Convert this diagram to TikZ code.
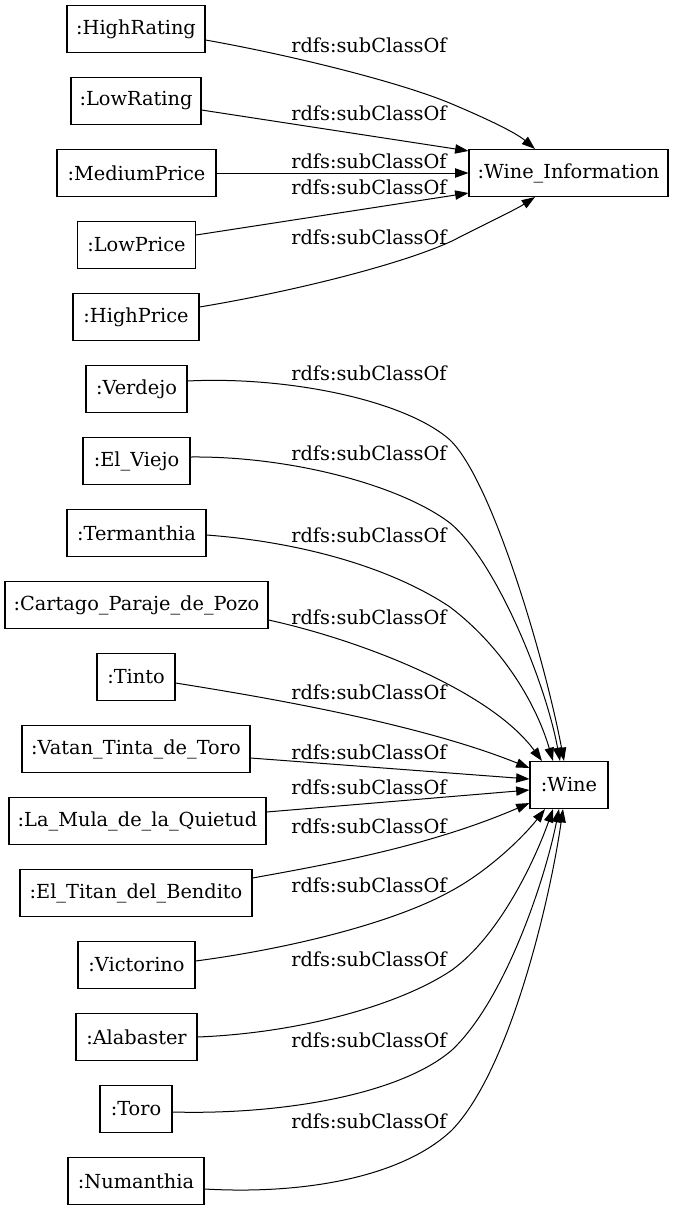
\documentclass[tikz,border=0pt]{standalone}
\usepackage{fontspec}
\setmainfont{DejaVu Serif}
\usetikzlibrary{arrows.meta}
\begin{document}
\begin{tikzpicture}[x=0.75pt,y=-0.75pt,
  box/.style={draw, line width=0.8pt, minimum height=35.25pt, minimum width=#1*0.75pt, inner sep=0pt, font=\fontsize{14.5}{17}\selectfont},
  lbl/.style={font=\fontsize{14.5}{17}\selectfont, inner sep=0pt},
  edge/.style={draw, line width=0.75pt, -{Triangle[length=10pt,width=7pt]}}]
\useasboundingbox (0,0) rectangle (675,1211);
% top group
\node[box=138] (hr) at (136,29) {:HighRating};
\node[box=130] (lr) at (136,101) {:LowRating};
\node[box=159] (mp) at (136.5,173) {:MediumPrice};
\node[box=118] (lp) at (136.5,245) {:LowPrice};
\node[box=126] (hp) at (136,317) {:HighPrice};
\node[box=199] (wi) at (568.5,173) {:Wine\_Information};
% bottom group
\node[box=101] (ve) at (136.5,389) {:Verdejo};
\node[box=107] (ev) at (136.5,461) {:El\_Viejo};
\node[box=139] (te) at (136.5,533) {:Termanthia};
\node[box=263] (ca) at (136.5,605) {:Cartago\_Paraje\_de\_Pozo};
\node[box=78] (ti) at (136,677) {:Tinto};
\node[box=228] (va) at (136,749) {:Vatan\_Tinta\_de\_Toro};
\node[box=257] (lm) at (137.5,821) {:La\_Mula\_de\_la\_Quietud};
\node[box=232] (et) at (136,893) {:El\_Titan\_del\_Bendito};
\node[box=117] (vi) at (136.5,965) {:Victorino};
\node[box=121] (al) at (136.5,1037) {:Alabaster};
\node[box=72] (to) at (136,1109) {:Toro};
\node[box=136] (nu) at (136,1181) {:Numanthia};
\node[box=78] (w) at (569,785) {:Wine};
% labels
\node[lbl] (l1) at (369,45) {rdfs:subClassOf};
\node[lbl] (l2) at (369,113) {rdfs:subClassOf};
\node[lbl] (l3) at (369,161) {rdfs:subClassOf};
\node[lbl] (l4) at (369,187) {rdfs:subClassOf};
\node[lbl] (l5) at (369,237) {rdfs:subClassOf};
\node[lbl] (l6) at (369,373) {rdfs:subClassOf};
\node[lbl] (l7) at (369,453) {rdfs:subClassOf};
\node[lbl] (l8) at (369,535) {rdfs:subClassOf};
\node[lbl] (l9) at (369,617) {rdfs:subClassOf};
\node[lbl] (l10) at (369,692) {rdfs:subClassOf};
\node[lbl] (l11) at (369,752) {rdfs:subClassOf};
\node[lbl] (l12) at (369,787) {rdfs:subClassOf};
\node[lbl] (l13) at (369,826) {rdfs:subClassOf};
\node[lbl] (l14) at (369,885) {rdfs:subClassOf};
\node[lbl] (l15) at (369,959) {rdfs:subClassOf};
\node[lbl] (l16) at (369,1040) {rdfs:subClassOf};
\node[lbl] (l17) at (369,1121) {rdfs:subClassOf};
% top edges
\draw[edge] ([shift={(0,11)}]hr.east) .. controls (290,55) and (400,82) .. (452,104) .. controls (485,118) and (515,132) .. ([shift={(-33.5,0)}]wi.north);
\draw[edge] ([shift={(0,9)}]lr.east) -- ([shift={(0,2)}]wi.north west);
\draw[edge] (mp) -- (wi);
\draw[edge] ([shift={(0,-10)}]lp.east) -- ([shift={(0,-4)}]wi.south west);
\draw[edge] ([shift={(0,-10)}]hp.east) .. controls (290,292) and (400,265) .. (452,241) .. controls (485,224) and (515,210) .. ([shift={(-33.5,0)}]wi.south);
% bottom edges
\draw[edge] ([shift={(0,-8)}]ve.east) .. controls (287,376) and (405,400) .. (450,440) .. controls (492,480) and (545,660) .. ([shift={(-5,0)}]w.north);
\draw[edge] ([shift={(0,-4)}]ev.east) .. controls (290,456) and (400,485) .. (450,523) .. controls (495,560) and (545,680) .. ([shift={(-9,0)}]w.north);
\draw[edge] ([shift={(0,2)}]te.east) .. controls (300,542) and (390,567) .. (450,607) .. controls (500,645) and (535,700) .. ([shift={(-16,0)}]w.north);
\draw[edge] ([shift={(0,15)}]ca.east) .. controls (360,640) and (490,690) .. ([shift={(-27,0)}]w.north);
\draw[edge] ([shift={(0,6)}]ti.east) .. controls (270,698) and (420,724) .. ([shift={(0,7)}]w.north west);
\draw[edge] ([shift={(0,9)}]va.east) -- ([shift={(0,-6)}]w.west);
\draw[edge] ([shift={(0,-9)}]lm.east) -- ([shift={(0,5)}]w.west);
\draw[edge] ([shift={(0,-15)}]et.east) .. controls (330,864) and (430,846) .. ([shift={(0,-6)}]w.south west);
\draw[edge] ([shift={(0,-4)}]vi.east) .. controls (280,950) and (390,925) .. (451,891) .. controls (490,870) and (525,835) .. ([shift={(-24,0)}]w.south);
\draw[edge] (al.east) .. controls (300,1033) and (400,1005) .. (452,970) .. controls (500,935) and (535,860) .. ([shift={(-16,0)}]w.south);
\draw[edge] ([shift={(0,3)}]to.east) .. controls (280,1115) and (400,1095) .. (452,1050) .. controls (505,1000) and (545,880) .. ([shift={(-10,0)}]w.south);
\draw[edge] ([shift={(0,8)}]nu.east) .. controls (310,1195) and (405,1175) .. (452,1130) .. controls (510,1070) and (550,900) .. ([shift={(-6,0)}]w.south);
\end{tikzpicture}
\end{document}
